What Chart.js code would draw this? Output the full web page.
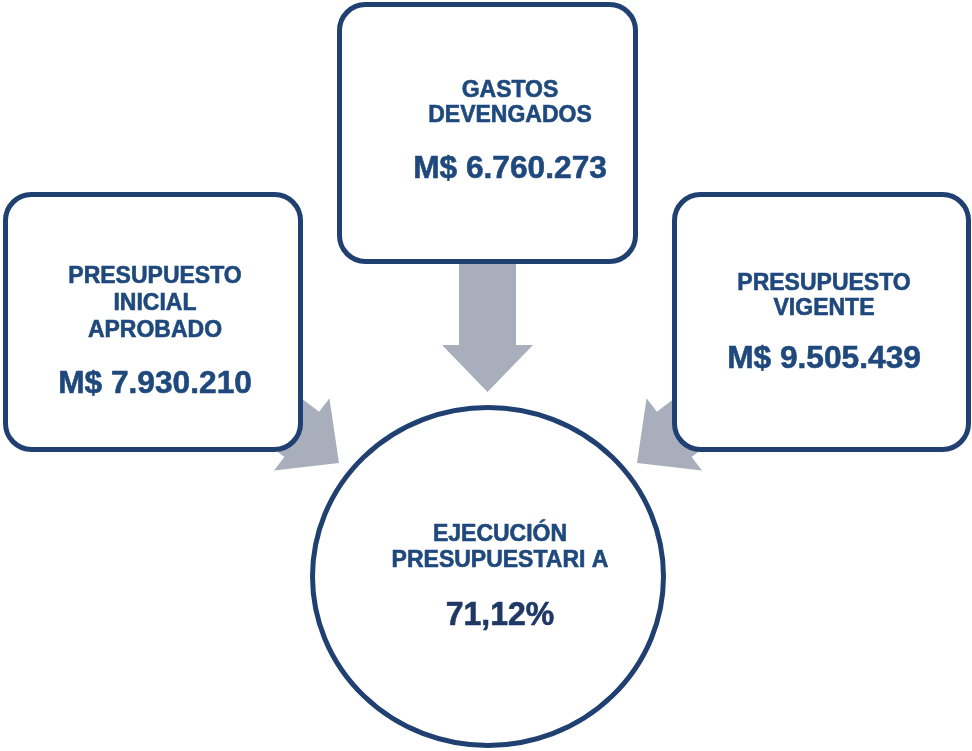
<!DOCTYPE html>
<html>
<head>
<meta charset="utf-8">
<script src="https://cdn.jsdelivr.net/npm/chart.js@4/dist/chart.umd.min.js"></script>
<style>
  html, body { margin: 0; padding: 0; background: #fff; }
  canvas { display: block; }
</style>
</head>
<body>
<canvas id="myChart" width="972" height="751"></canvas>
<script>
// data
const categories = [
  ['PRESUPUESTO', 'INICIAL', 'APROBADO'],
  ['GASTOS', 'DEVENGADOS'],
  ['PRESUPUESTO', 'VIGENTE']
];
const amounts = [7930210, 6760273, 9505439];
const resultLabel = ['EJECUCIÓN', 'PRESUPUESTARI A'];
const resultValue = 71.12;

// layout (in the hidden scales' units = pixels of the picture)
const boxes = [
  { x: 5.5, y: 194.5, w: 295, h: 255, cx: 155, lines: [283, 310, 337], val: 393 },
  { x: 339.5, y: 4.5, w: 296, h: 257, cx: 510, lines: [97, 122], val: 178 },
  { x: 674.5, y: 194.5, w: 294, h: 255, cx: 824, lines: [290, 315], val: 368 }
];
const ring = { x: 488, y: 576.5, rx: 175.5, ry: 169, cx: 500, lines: [541, 567], val: 625 };
const arrows = [
  { tx: 339, ty: 463, angle: 37.5 },
  { tx: 487.5, ty: 392, angle: 90 },
  { tx: 637, ty: 463, angle: 142.5 }
];

const navy = '#1F4070';
const textBlue = '#1F497D';
const darkBlue = '#1F3864';
const arrowGrey = '#A9AEBD';

function fmt(v) {
  return 'M$ ' + String(v).replace(/\B(?=(\d{3})+(?!\d))/g, '.');
}

function text(ctx, str, x, y, size, color, sx) {
  ctx.save();
  ctx.font = 'bold ' + size + 'px "Liberation Sans", Arial, sans-serif';
  ctx.fillStyle = color;
  ctx.strokeStyle = color;
  ctx.lineWidth = 0.6;
  ctx.textAlign = 'center';
  ctx.textBaseline = 'alphabetic';
  ctx.translate(x, y);
  ctx.scale(sx || 1, 1);
  ctx.fillText(str, 0, 0);
  ctx.strokeText(str, 0, 0);
  ctx.restore();
}

const diagram = {
  id: 'diagram',
  afterDraw(chart) {
    const ctx = chart.ctx;
    const sx = chart.scales.x, sy = chart.scales.y;
    const px = v => sx.getPixelForValue(v);
    const py = v => sy.getPixelForValue(v);

    // arrows first, boxes cover their tails
    arrows.forEach(a => {
      const headLen = 47, headW = 91, shaftW = 57, shaftLen = 90;
      ctx.save();
      ctx.translate(px(a.tx), py(a.ty));
      ctx.rotate(a.angle * Math.PI / 180);
      ctx.beginPath();
      ctx.moveTo(0, 0);
      ctx.lineTo(-headLen, -headW / 2);
      ctx.lineTo(-headLen, -shaftW / 2);
      ctx.lineTo(-headLen - shaftLen, -shaftW / 2);
      ctx.lineTo(-headLen - shaftLen, shaftW / 2);
      ctx.lineTo(-headLen, shaftW / 2);
      ctx.lineTo(-headLen, headW / 2);
      ctx.closePath();
      ctx.fillStyle = arrowGrey;
      ctx.fill();
      ctx.restore();
    });

    boxes.forEach((b, i) => {
      const x0 = px(b.x), y0 = py(b.y);
      const w = px(b.x + b.w) - x0, h = py(b.y + b.h) - y0;
      ctx.save();
      ctx.beginPath();
      ctx.roundRect(x0, y0, w, h, 26);
      ctx.fillStyle = '#fff';
      ctx.fill();
      ctx.lineWidth = 5;
      ctx.strokeStyle = navy;
      ctx.stroke();
      ctx.restore();
      categories[i].forEach((line, k) => text(ctx, line, px(b.cx), py(b.lines[k]), 23, textBlue, 1));
      text(ctx, fmt(amounts[i]), px(b.cx), py(b.val), 32, textBlue, 0.99);
    });

    ctx.save();
    ctx.beginPath();
    ctx.ellipse(px(ring.x), py(ring.y), ring.rx, ring.ry, 0, 0, Math.PI * 2);
    ctx.fillStyle = '#fff';
    ctx.fill();
    ctx.lineWidth = 5;
    ctx.strokeStyle = navy;
    ctx.stroke();
    ctx.restore();
    resultLabel.forEach((line, k) => text(ctx, line, px(ring.cx), py(ring.lines[k]), 23, textBlue, 1));
    text(ctx, resultValue.toFixed(2).replace('.', ',') + '%', px(ring.cx), py(ring.val), 33, darkBlue, 0.97);
  }
};

const chart = new Chart(document.getElementById('myChart'), {
  type: 'scatter',
  data: { datasets: [{ data: [] }] },
  options: {
    responsive: false,
    animation: false,
    devicePixelRatio: 1,
    layout: { padding: 0 },
    plugins: { legend: { display: false }, tooltip: { enabled: false } },
    scales: {
      x: { type: 'linear', min: 0, max: 972, display: false },
      y: { type: 'linear', min: 0, max: 751, reverse: true, display: false }
    }
  },
  plugins: [diagram]
});
</script>
</body>
</html>
